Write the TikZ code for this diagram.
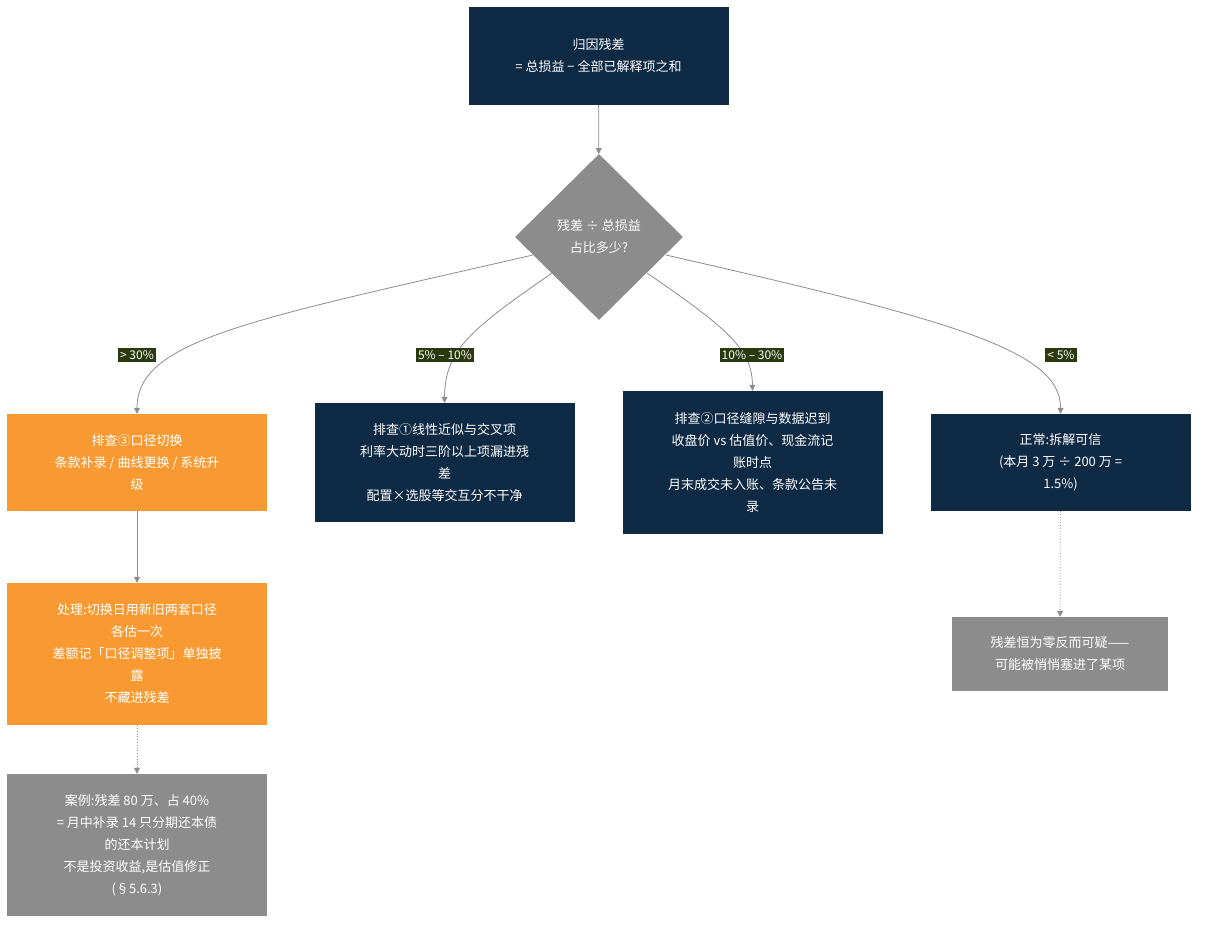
\documentclass[tikz,border=0pt]{standalone}
\usepackage{fontspec}
\setmainfont{Noto Sans CJK SC}
\usetikzlibrary{shapes.geometric,arrows.meta}
\definecolor{navy}{HTML}{0F2A44}
\definecolor{orng}{HTML}{F89A31}
\definecolor{gry}{HTML}{8C8C8C}
\definecolor{lbl}{HTML}{2B3A0E}
\begin{document}
\begin{tikzpicture}[x=1pt,y=-1pt,
 box/.style={rectangle,minimum width=260pt,align=center,text=white,font=\fontsize{13}{22}\selectfont,inner sep=0pt},
 nv/.style={box,fill=navy},
 og/.style={box,fill=orng},
 gy/.style={box,fill=gry},
 lb/.style={fill=lbl,text=white,font=\fontsize{12}{14}\selectfont,inner sep=2pt},
 ed/.style={draw=gry,line width=0.8pt,-{Triangle[length=6pt,width=6pt]}},
 dt/.style={ed,dotted}]
\useasboundingbox (0,0) rectangle (1206,931);
\node[nv,minimum height=98pt] (t) at (598.5,56) {归因残差\\= 总损益 − 全部已解释项之和};
\node[diamond,fill=gry,minimum width=168pt,minimum height=166pt,inner sep=0pt,align=center,text=white,font=\fontsize{13}{22}\selectfont] (d) at (599,237) {残差 ÷ 总损益\\占比多少?};
\node[og,minimum height=97pt] (a) at (137,462.5) {排查③口径切换\\条款补录 / 曲线更换 / 系统升\\级};
\node[nv,minimum height=119pt] (b) at (444.5,462.5) {排查①线性近似与交叉项\\利率大动时三阶以上项漏进残\\差\\配置×选股等交互分不干净};
\node[nv,minimum height=143pt] (c) at (752.5,462.5) {排查②口径缝隙与数据迟到\\收盘价 vs 估值价、现金流记\\账时点\\月末成交未入账、条款公告未\\录};
\node[nv,minimum height=97pt] (e) at (1060.5,462.5) {正常:拆解可信\\(本月 3 万 ÷ 200 万 =\\1.5\%)};
\node[og,minimum height=142pt] (f) at (137,654) {处理:切换日用新旧两套口径\\各估一次\\差额记「口径调整项」单独披\\露\\不藏进残差};
\node[gy,minimum height=142pt] (g) at (137,845) {案例:残差 80 万、占 40\%\\= 月中补录 14 只分期还本债\\的还本计划\\不是投资收益,是估值修正\\(§5.6.3)};
\node[gy,minimum width=216pt,minimum height=74pt] (h) at (1060,654) {残差恒为零反而可疑——\\可能被悄悄塞进了某项};
\coordinate (s1) at (533,255);
\coordinate (s2) at (552,273);
\coordinate (s3) at (647,273);
\coordinate (s4) at (666,255);
\draw[ed] (t) -- (d);
\draw[ed] (s1) .. controls (250,320) and (137,340) .. (a.north);
\draw[ed] (s2) .. controls (470,330) and (445,350) .. (b.north);
\draw[ed] (s3) .. controls (730,330) and (752,350) .. (c.north);
\draw[ed] (s4) .. controls (950,320) and (1061,350) .. (e.north);
\draw[ed] (a) -- (f);
\draw[dt] (f) -- (g);
\draw[dt] (e) -- (h);
\node[lb] (l1) at (137,355) {> 30\%};
\node[lb] (l2) at (445,355) {5\% – 10\%};
\node[lb] (l3) at (752,355) {10\% – 30\%};
\node[lb] (l4) at (1061,355) {< 5\%};
\end{tikzpicture}
\end{document}
